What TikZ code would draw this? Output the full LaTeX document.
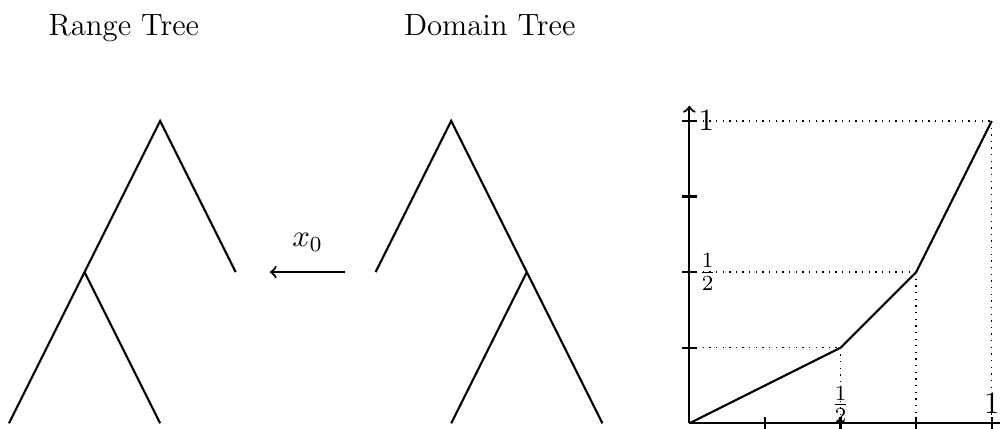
\RequirePackage{fix-cm}
\documentclass[tikz,border=0pt]{standalone}
\usetikzlibrary{arrows, positioning}

\begin{document}
\begin{tikzpicture}[font=\fontsize{11.6}{14}\selectfont, node distance=2cm and 1cm,
    edge/.style={thick}, guide/.style={dotted, line width=0.5pt}]
    \useasboundingbox (-9.118,-0.075) rectangle (4.109,5.599);

    % titles
    \node (rtitle) [anchor=base] at (-7.48,5.136) {Range Tree};
    \node (dtitle) [anchor=base] at (-2.64,5.136) {Domain Tree};

    % range tree
    \coordinate (rroot) at (-7,4);
    \coordinate [below left=of rroot] (rleft);
    \coordinate [below right=of rroot] (rright);
    \coordinate [below left=of rleft] (rll);
    \coordinate [below right=of rleft] (rlr);
    \draw [edge] (rright) -- (rroot) -- (rleft) -- (rll);
    \draw [edge] (rleft) -- (rlr);

    % domain tree
    \coordinate (droot) at (-3.15,4);
    \coordinate [below left=of droot] (dleft);
    \coordinate [below right=of droot] (dright);
    \coordinate [below left=of dright] (drl);
    \coordinate [below right=of dright] (drr);
    \draw [edge] (dleft) -- (droot) -- (dright) -- (drr);
    \draw [edge] (dright) -- (drl);

    % map between the trees
    \coordinate (mapfrom) at (-4.55,2);
    \coordinate (mapto) at (-5.55,2);
    \draw [->, edge] (mapfrom) -- node[above=4pt] {$x_0$} (mapto);

    % graph
    \coordinate (o) at (0,0);
    \coordinate (ytop) at (0,4.2);
    \coordinate (xend) at (4.3,0);
    \coordinate (p1) at (2,1);
    \coordinate (p2) at (3,2);
    \coordinate (p3) at (4,4);
    \draw [->, edge] (o) -- (ytop);
    \draw [->, edge] (o) -- (xend);
    \foreach \i in {1,...,4} {
        \draw [edge] (\i,-0.08) -- (\i,0.08);
        \draw [edge] (-0.1,\i) -- (0.1,\i);
    }
    \draw [guide] (0,1) -| (p1);
    \draw [guide] (0,2) -| (p2);
    \draw [guide] (0,4) -| (p3);
    \draw [guide] (p1) -- (2,0);
    \draw [guide] (p2) -- (3,0);
    \draw [guide] (p3) -- (4,0);
    \draw [edge] (o) -- (p1) -- (p2) -- (p3);

    \node (ylab1) [right] at (0,4) {$1$};
    \node (ylabh) [right] at (0,2) {$\frac{1}{2}$};
    \node (xlabh) [above, inner sep=0pt] at (2,0) {$\frac{1}{2}$};
    \node (xlab1) [above] at (4,0) {$1$};
\end{tikzpicture}
\end{document}
